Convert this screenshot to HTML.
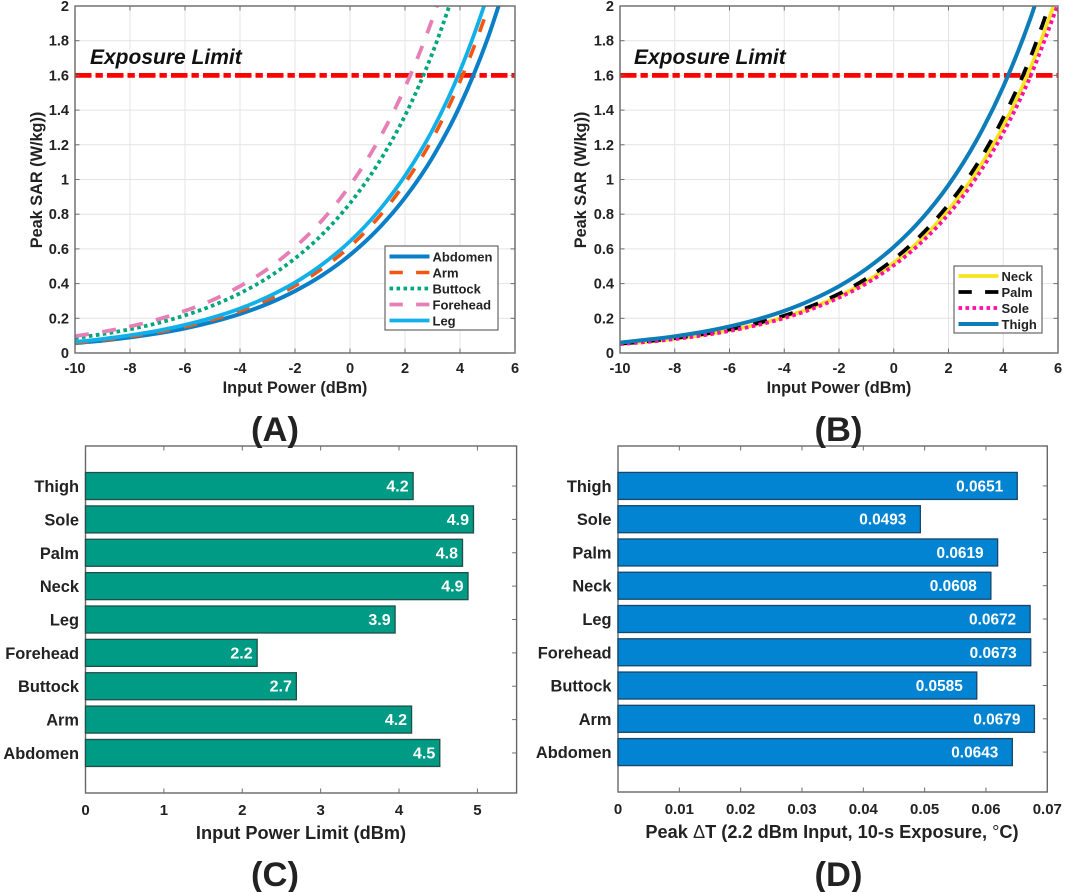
<!DOCTYPE html>
<html lang="en">
<head>
<meta charset="utf-8">
<title>Peak SAR and temperature rise by body location</title>
<style>
  html, body { margin: 0; padding: 0; background: #fff; }
  svg { display: block; font-family: "Liberation Sans", Arial, sans-serif; font-weight: bold; fill: #222; }
  .tick { font-size: 14.6px; }
  .tick-wide { font-size: 15px; }
  .title { font-size: 16.3px; }
  .title-wide { font-size: 18.2px; }
  .cat { font-size: 16.4px; }
  .legend-text { font-size: 13px; }
  .panel { font-size: 34.5px; }
  .limit { font-size: 21px; font-style: italic; fill: #111; }
  .val { font-size: 16px; fill: #fff; }
  .thin { font-weight: normal; }
</style>
</head>
<body>
<svg id="figure" width="1065" height="892" viewBox="0 0 1065 892" xmlns="http://www.w3.org/2000/svg">
  <rect width="1065" height="892" fill="#fff"></rect>
  <defs>
    <clipPath id="clip-a"><rect x="75" y="6" width="440" height="347"></rect></clipPath>
    <clipPath id="clip-b"><rect x="620" y="6" width="438" height="347"></rect></clipPath>
  </defs>

  <g id="chart-a"></g>
  <g id="chart-b"></g>
  <g id="chart-c"></g>
  <g id="chart-d"></g>

  <text class="title" text-anchor="middle" transform="translate(42,180) rotate(-90)">Peak SAR (W/kg))</text>
  <text class="title" text-anchor="middle" x="295" y="393">Input Power (dBm)</text>
  <text class="limit" x="90" y="64">Exposure Limit</text>
  <text class="panel" text-anchor="middle" x="275" y="441">(A)</text>

  <text class="title" text-anchor="middle" transform="translate(586,180) rotate(-90)">Peak SAR (W/kg))</text>
  <text class="title" text-anchor="middle" x="839" y="393">Input Power (dBm)</text>
  <text class="limit" x="634" y="64">Exposure Limit</text>
  <text class="panel" text-anchor="middle" x="838.5" y="441">(B)</text>

  <text class="title-wide" text-anchor="middle" x="301" y="839">Input Power Limit (dBm)</text>
  <text class="panel" text-anchor="middle" x="275" y="886">(C)</text>

  <text class="title-wide" text-anchor="middle" x="832" y="838">Peak <tspan class="thin">&#916;</tspan>T (2.2 dBm Input, 10-s Exposure, <tspan class="thin">&#176;</tspan>C)</text>
  <text class="panel" text-anchor="middle" x="838.5" y="886">(D)</text>
</svg>

<script>
// ---- data ----
const inputPower = [-10,-9,-8,-7,-6,-5,-4,-3,-2,-1,0,1,2,3,4,5,6];
const abdomenSar = [0.057,0.071,0.090,0.113,0.142,0.179,0.225,0.283,0.357,0.449,0.565,0.711,0.895,1.127,1.425,1.810,2.300];
const armSar = [0.058,0.075,0.095,0.120,0.152,0.192,0.242,0.306,0.387,0.488,0.614,0.775,0.980,1.235,1.565,1.980,2.500];
const buttockSar = [0.086,0.109,0.137,0.172,0.217,0.273,0.344,0.433,0.545,0.685,0.863,1.086,1.368,1.730,2.190,2.729,3.436];
const foreheadSar = [0.097,0.122,0.153,0.193,0.243,0.305,0.385,0.484,0.610,0.767,0.966,1.216,1.531,1.927,2.427,3.055,3.846];
const legSar = [0.064,0.081,0.102,0.128,0.162,0.204,0.256,0.323,0.406,0.512,0.644,0.811,1.021,1.285,1.625,2.060,2.600];
const neckSar = [0.052,0.065,0.082,0.104,0.131,0.164,0.207,0.261,0.328,0.413,0.520,0.655,0.824,1.037,1.306,1.644,2.070];
const palmSar = [0.054,0.068,0.086,0.108,0.136,0.171,0.215,0.271,0.341,0.429,0.540,0.680,0.856,1.077,1.356,1.707,2.150];
const soleSar = [0.051,0.064,0.080,0.101,0.127,0.160,0.201,0.253,0.319,0.401,0.505,0.636,0.800,1.007,1.269,1.597,2.010];
const thighSar = [0.060,0.077,0.096,0.121,0.153,0.193,0.243,0.306,0.385,0.485,0.611,0.769,0.968,1.219,1.535,1.932,2.432];
const exposureLimit = 1.6;
const powerTicks = [-10,-8,-6,-4,-2,0,2,4,6];
const sarTicks = [0,0.2,0.4,0.6,0.8,1,1.2,1.4,1.6,1.8,2];

const bodyParts = ['Abdomen','Arm','Buttock','Forehead','Leg','Neck','Palm','Sole','Thigh'];
const powerLimits = [4.52,4.16,2.69,2.19,3.95,4.88,4.81,4.95,4.18];
const powerLimitLabels = ['4.5','4.2','2.7','2.2','3.9','4.9','4.8','4.9','4.2'];
const powerLimitTicks = [0,1,2,3,4,5];
const deltaT = [0.0643,0.0679,0.0585,0.0673,0.0672,0.0608,0.0619,0.0493,0.0651];
const deltaTLabels = ['0.0643','0.0679','0.0585','0.0673','0.0672','0.0608','0.0619','0.0493','0.0651'];
const deltaTTicks = [0,0.01,0.02,0.03,0.04,0.05,0.06,0.07];

// ---- drawing helpers ----
const NS = 'http://www.w3.org/2000/svg';
function add(parent, tag, attrs, text) {
  const el = document.createElementNS(NS, tag);
  for (const k in attrs) el.setAttribute(k, attrs[k]);
  if (text !== undefined) el.textContent = text;
  parent.appendChild(el);
  return el;
}
function linear(d0, d1, r0, r1) {
  return function (v) { return r0 + (v - d0) / (d1 - d0) * (r1 - r0); };
}
function smoothPath(pts) {
  let d = 'M' + pts[0][0].toFixed(2) + ' ' + pts[0][1].toFixed(2);
  for (let i = 0; i < pts.length - 1; i++) {
    const p0 = pts[Math.max(i - 1, 0)], p1 = pts[i], p2 = pts[i + 1], p3 = pts[Math.min(i + 2, pts.length - 1)];
    const c1x = p1[0] + (p2[0] - p0[0]) / 6, c1y = p1[1] + (p2[1] - p0[1]) / 6;
    const c2x = p2[0] - (p3[0] - p1[0]) / 6, c2y = p2[1] - (p3[1] - p1[1]) / 6;
    d += 'C' + c1x.toFixed(2) + ' ' + c1y.toFixed(2) + ' ' + c2x.toFixed(2) + ' ' + c2y.toFixed(2) + ' ' + p2[0].toFixed(2) + ' ' + p2[1].toFixed(2);
  }
  return d;
}
const AXIS = '#666';
const TICK = '#6e6e6e';
function drawFrame(g, box) {
  const frame = add(g, 'rect', { x: box.left, y: box.top, width: box.right - box.left, height: box.bottom - box.top, fill: 'none', stroke: AXIS, 'stroke-width': 1.4 });
  
  
}
function vTick(g, x, box) {
  const t1 = add(g, 'line', { x1: x, x2: x, y1: box.bottom, y2: box.bottom - 4.5, stroke: TICK, 'stroke-width': 1 });
  
  
  const t2 = add(g, 'line', { x1: x, x2: x, y1: box.top, y2: box.top + 4.5, stroke: TICK, 'stroke-width': 1 });
  
  
}
function hTick(g, y, box) {
  const t1 = add(g, 'line', { x1: box.left, x2: box.left + 4.5, y1: y, y2: y, stroke: TICK, 'stroke-width': 1 });
  
  
  const t2 = add(g, 'line', { x1: box.right, x2: box.right - 4.5, y1: y, y2: y, stroke: TICK, 'stroke-width': 1 });
  
  
}

function drawLineChart(id, clipId, box, series, legend) {
  const g = document.getElementById(id);
  const x = linear(-10, 6, box.left, box.right);
  const y = linear(0, 2, box.bottom, box.top);

  powerTicks.forEach(function (t) {
    const grid = add(g, 'line', { x1: x(t), x2: x(t), y1: box.top, y2: box.bottom, stroke: '#e4e4e4', 'stroke-width': 1 });
    
    
  });
  sarTicks.forEach(function (t) {
    const grid = add(g, 'line', { x1: box.left, x2: box.right, y1: y(t), y2: y(t), stroke: '#e4e4e4', 'stroke-width': 1 });
    
    
  });

  const limit = add(g, 'line', { x1: box.left, x2: box.right, y1: y(exposureLimit), y2: y(exposureLimit), stroke: '#ff0000', 'stroke-width': 4.8, 'stroke-dasharray': '16.5 4 7.3 4.2' });
  
  

  series.forEach(function (s) {
    const pts = inputPower.map(function (p, i) { return [x(p), y(s.values[i])]; });
    const path = add(g, 'path', { d: smoothPath(pts), fill: 'none', stroke: s.color, 'stroke-width': s.width, 'stroke-dasharray': s.dash, 'clip-path': 'url(#' + clipId + ')' });
    
    
  });

  drawFrame(g, box);

  powerTicks.forEach(function (t) {
    vTick(g, x(t), box);
    const label = add(g, 'text', { class: 'tick', x: x(t), y: box.bottom + 20, 'text-anchor': 'middle' }, String(t));
    
    
  });
  sarTicks.forEach(function (t) {
    hTick(g, y(t), box);
    const label = add(g, 'text', { class: 'tick', x: box.left - 6, y: y(t) + 5, 'text-anchor': 'end' }, String(t));
    
    
  });

  const lg = add(g, 'g', {});
  
  
  const lgBox = add(lg, 'rect', { x: legend.x, y: legend.y, width: legend.w, height: legend.h, fill: '#fff', stroke: '#666', 'stroke-width': 1.2 });
  
  
  series.forEach(function (s, i) {
    const rowY = legend.y + legend.first + i * legend.step;
    const sample = add(lg, 'line', { x1: legend.x + 4.5, x2: legend.x + 44.5, y1: rowY, y2: rowY, stroke: s.color, 'stroke-width': s.width, 'stroke-dasharray': s.legendDash });
    
    
    const text = add(lg, 'text', { class: 'legend-text', x: legend.x + 47.5, y: rowY + 5 }, s.name);
    
    
  });
}

function drawBarChart(id, box, domainMax, ticks, values, labels, color, edge, labelInset, labelSize) {
  const g = document.getElementById(id);
  const x = linear(0, domainMax, box.left, box.right);
  const y = linear(-1.2, 9.2, box.bottom, box.top);
  const barH = 27;

  drawFrame(g, box);
  ticks.forEach(function (t) {
    vTick(g, x(t), box);
    const label = add(g, 'text', { class: 'tick-wide', x: x(t), y: box.bottom + 22, 'text-anchor': 'middle' }, String(t));
    
    
  });
  bodyParts.forEach(function (name, i) {
    hTick(g, y(i), box);
    const cat = add(g, 'text', { class: 'cat', x: box.left - 6.5, y: y(i) + 6, 'text-anchor': 'end' }, name);
    
    
    const bar = add(g, 'rect', { x: box.left, y: y(i) - barH / 2, width: x(values[i]) - box.left, height: barH, fill: color, stroke: edge, 'stroke-width': 1.3 });
    
    
    const val = add(g, 'text', { class: 'val', x: x(values[i]) - labelInset, y: y(i) + 5.5, 'text-anchor': 'end', style: 'font-size:' + labelSize + 'px' }, labels[i]);
    
    
  });
}

// ---- charts ----
const solid = 'none';
const seriesA = [
  { name: 'Abdomen', values: abdomenSar, color: '#0a7fc8', width: 4, dash: solid, legendDash: solid },
  { name: 'Arm', values: armSar, color: '#f4560f', width: 3.6, dash: '13.5 14', legendDash: '13.3 13.3' },
  { name: 'Buttock', values: buttockSar, color: '#00a67c', width: 3.8, dash: '3.6 3.4', legendDash: '3.6 3.4' },
  { name: 'Forehead', values: foreheadSar, color: '#e67fb5', width: 3.8, dash: '14 13.5', legendDash: '13.3 13.3' },
  { name: 'Leg', values: legSar, color: '#12b0e8', width: 3.8, dash: solid, legendDash: solid }
];
const seriesB = [
  { name: 'Neck', values: neckSar, color: '#f7e41d', width: 3.8, dash: solid, legendDash: solid },
  { name: 'Palm', values: palmSar, color: '#000000', width: 3.8, dash: '14 13', legendDash: '13.3 13.3' },
  { name: 'Sole', values: soleSar, color: '#ff0fa5', width: 3.8, dash: '3.6 3.4', legendDash: '3.6 3.4' },
  { name: 'Thigh', values: thighSar, color: '#0c7db8', width: 4, dash: solid, legendDash: solid }
];

drawLineChart('chart-a', 'clip-a', { left: 75, right: 515, top: 6, bottom: 353 }, seriesA,
  { x: 385, y: 246, w: 113, h: 84, first: 10.5, step: 16 });
drawLineChart('chart-b', 'clip-b', { left: 620, right: 1058, top: 6, bottom: 353 }, seriesB,
  { x: 954, y: 266, w: 88, h: 67, first: 10, step: 16 });

drawBarChart('chart-c', { left: 85.5, right: 516.6, top: 446, bottom: 793 }, 5.5, powerLimitTicks,
  powerLimits, powerLimitLabels, '#009b85', '#1f4f47', 4.5, 16);
drawBarChart('chart-d', { left: 618, right: 1047.3, top: 446, bottom: 792 }, 0.07, deltaTTicks,
  deltaT, deltaTLabels, '#0384d2', '#17466a', 14, 15.4);
</script>
</body>
</html>
